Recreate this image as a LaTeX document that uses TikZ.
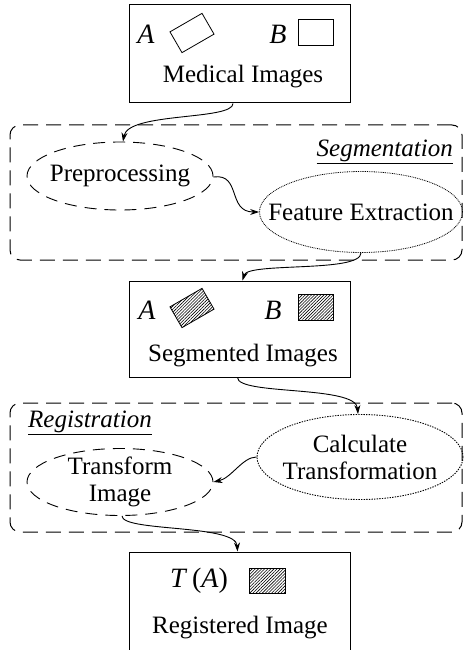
\documentclass[tikz,border=0pt]{standalone}
\usepackage{fontspec}
\setmainfont{Liberation Serif}
\usetikzlibrary{shapes.geometric,arrows.meta,patterns.meta}
\tikzset{
  x=1pt,y=-1pt,
  every node/.style={font=\fontsize{25}{28}\selectfont},
  imgbox/.style={draw,line width=1pt,rectangle,inner sep=0pt,minimum width=221pt},
  region/.style={draw,line width=1pt,dash pattern=on 15pt off 8pt,rounded corners=10pt,rectangle,inner sep=0pt,minimum width=452pt},
  dashell/.style={draw,line width=0.9pt,dash pattern=on 12pt off 8pt,ellipse,inner sep=0pt},
  dotell/.style={draw,line width=0.8pt,dash pattern=on 0.9pt off 0.9pt,ellipse,inner sep=0pt},
  dotellb/.style={draw,line width=0.9pt,dash pattern=on 1.4pt off 1.2pt,ellipse,inner sep=0pt},
  tilt/.style={draw,line width=0.8pt,rectangle,rotate=30,minimum width=37pt,minimum height=24pt,inner sep=0pt},
  sq/.style={draw,line width=0.8pt,rectangle,minimum width=35pt,minimum height=26pt,inner sep=0pt},
  hatch/.style={pattern={Lines[angle=45,distance=2.2pt,line width=0.6pt]}},
  arr/.style={line width=0.9pt,-{Stealth[length=9pt,width=6pt]}},
  lbl/.style={inner sep=0pt},
  letter/.style={inner sep=0pt,font=\fontsize{28}{30}\selectfont},
  two/.style={align=center,font=\fontsize{25}{27}\selectfont}
}
\begin{document}
\begin{tikzpicture}
\useasboundingbox (0,0) rectangle (467,650);
\clip (0,0) rectangle (467,650);
% box 1
\node[imgbox,minimum height=98pt] (b1) at (240,54) {};
\node[letter] (b1a) at (146,34) {\textit{A}};
\node[tilt] (b1ra) at (192,33) {};
\node[letter] (b1b) at (278,34) {\textit{B}};
\node[sq] (b1rb) at (315.5,32) {};
\node[lbl] (b1t) at (243,77) {Medical Images};
% segmentation
\node[region,minimum height=135pt] (seg) at (236,192.5) {};
\node[lbl,anchor=east] (segl) at (453,152) {\underline{\textit{Segmentation}}};
\node[dashell,minimum width=186pt,minimum height=68pt] (pre) at (120,176) {};
\node[lbl] (pret) at (pre.center) {Preprocessing};
\node[dotell,minimum width=203pt,minimum height=81pt] (fe) at (361,212) {};
\node[lbl] (fet) at (fe.center) {Feature Extraction};
% box 2
\node[imgbox,minimum height=96pt] (b2) at (239.5,329) {};
\node[letter] (b2a) at (147,310) {\textit{A}};
\node[tilt,hatch] (b2ra) at (192,308) {};
\node[letter] (b2b) at (273,310) {\textit{B}};
\node[sq,hatch] (b2rb) at (315.5,307.5) {};
\node[lbl] (b2t) at (243,356) {Segmented Images};
% registration
\node[region,minimum height=129pt] (reg) at (236,467.5) {};
\node[lbl,anchor=west] (regl) at (28,423) {\underline{\textit{Registration}}};
\node[dashell,minimum width=186pt,minimum height=67pt] (tr) at (120,482) {};
\node[lbl,two] (trt) at (tr.center) {Transform\\Image};
\node[dotellb,minimum width=206pt,minimum height=85pt] (ct) at (360,457) {};
\node[lbl,two] (ctt) at (ct.center) {Calculate\\Transformation};
% box 3
\node[imgbox,minimum height=116pt] (b3) at (239.5,610) {};
\node[letter] (b3a) at (199,581) {\textit{T}\,(\textit{A})};
\node[sq,hatch,minimum width=36pt,minimum height=25pt] (b3r) at (267,580.5) {};
\node[lbl] (b3t) at (240,628) {Registered Image};
% arrows
\draw[arr] ([xshift=-7pt]b1.south) .. controls +(0,17) and (128,112) .. ([xshift=3pt]pre.north);
\draw[arr] ([yshift=-1pt]pre.east) .. controls +(28,-4) and +(-32,0) .. (fe.west);
\draw[arr] (fe.south) .. controls +(0,20) and (248,262) .. ([xshift=3pt]b2.north);
\draw[arr] ([xshift=-2pt]b2.south) .. controls +(0,18) and (356,385) .. ([xshift=-2pt]ct.north);
\draw[arr] (ct.west) .. controls +(-14,0) and +(18,-4) .. (tr.east);
\draw[arr] ([xshift=2pt]tr.south) .. controls +(0,16) and (236,524) .. ([xshift=-2pt]b3.north);
\end{tikzpicture}
\end{document}
